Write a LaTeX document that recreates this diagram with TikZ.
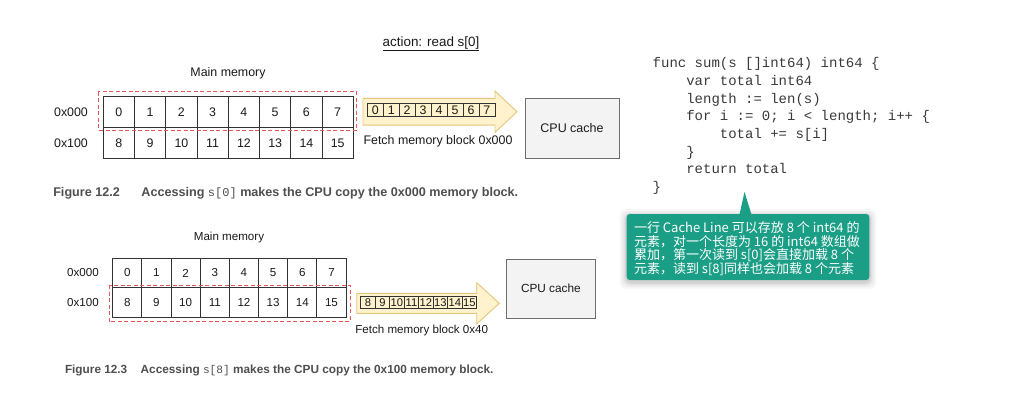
\documentclass[tikz,border=0pt]{standalone}
\usepackage{fontspec}
\setmainfont{Liberation Sans}
\setmonofont{Liberation Mono}
\newfontfamily\cjk{Noto Sans CJK SC}
\usetikzlibrary{calc}
\definecolor{gridc}{HTML}{333333}
\definecolor{reddash}{HTML}{E8585A}
\definecolor{arrowfill}{HTML}{FFF2CC}
\definecolor{arrowdraw}{HTML}{E3C77A}
\definecolor{cachefill}{HTML}{F3F3F3}
\definecolor{cachedraw}{HTML}{6E6E6E}
\definecolor{capc}{HTML}{4F4F4F}
\definecolor{codec}{HTML}{3A3A3A}
\definecolor{calloutc}{HTML}{1B9E86}
\definecolor{txtc}{HTML}{1A1A1A}
\begin{document}
\begin{tikzpicture}[x=1pt,y=-1pt,
  every node/.style={inner sep=0pt, outer sep=0pt},
  lblA/.style={font=\fontsize{12.4}{14}\selectfont, text=txtc},
  lblB/.style={font=\fontsize{11.6}{13}\selectfont, text=txtc},
  cellA/.style={draw=gridc, line width=0.9pt, minimum width=31.25pt, minimum height=30.8pt, font=\fontsize{12.4}{14}\selectfont, text=txtc},
  cellB/.style={draw=gridc, line width=0.9pt, minimum width=29.17pt, minimum height=29.5pt, font=\fontsize{11.6}{13}\selectfont, text=txtc},
  smallA/.style={draw=gridc, line width=0.8pt, minimum width=15.95pt, minimum height=13.4pt, font=\fontsize{12.4}{13}\selectfont, text=txtc},
  smallB/.style={draw=gridc, line width=0.8pt, minimum width=14.5pt, minimum height=12.3pt, font=\fontsize{11.2}{12}\selectfont, text=txtc},
  fetcharrow/.style={fill=arrowfill, draw=arrowdraw, line width=0.9pt},
  cachebox/.style={fill=cachefill, draw=cachedraw, line width=0.9pt},
  blockmark/.style={draw=reddash, line width=1pt, dash pattern=on 4pt off 2.5pt},
  caption/.style={anchor=west, text=capc},
  codeline/.style={anchor=base west, font=\fontsize{14}{17}\ttfamily, text=codec},
]
\useasboundingbox (0,0) rectangle (1026,418);
\fill[white] (0,0) rectangle (1026,418);

% ---------- top figure ----------
\node[font=\fontsize{13.4}{15}\selectfont, text=txtc] (action) at (431,44) {\underline{action: read s[0]}};
\node[lblA] (mmA) at (228,73) {Main memory};
\node[lblA] (adrA0) at (71,112.1) {0x000};
\node[lblA] (adrA1) at (71,142.9) {0x100};
\foreach \i [evaluate=\i as \j using int(\i+8)] in {0,...,7} {
  \node[cellA] (ta\i) at ({103.3+31.25*\i+15.625},112.1) {\i};
  \node[cellA] (tb\i) at ({103.3+31.25*\i+15.625},142.9) {\j};
}
\draw[blockmark] (98.3,91.7) rectangle (356.7,130);
\draw[fetcharrow] (363,98.3) -- (495,98.3) -- (495,91) -- (517,111.7) -- (495,132.4) -- (495,125.1) -- (363,125.1) -- cycle;
\foreach \i in {0,...,7} {
  \node[smallA] (tf\i) at ({367.3+15.95*\i+7.975},110) {\i};
}
\node[lblA] (fetchA) at (438,141.7) {Fetch memory block 0x000};
\node[cachebox, minimum width=94pt, minimum height=60pt, font=\fontsize{12.5}{14}\selectfont, text=txtc] (cacheA) at (572,128) {CPU cache};
\node[caption, font=\fontsize{12.6}{14}\selectfont\bfseries] (capA) at (53.3,193)
  {Figure 12.2\hspace{21.6pt}Accessing {\mdseries\ttfamily\fontsize{12}{14}\selectfont s[0]} makes the CPU copy the 0x000 memory block.};

% ---------- bottom figure ----------
\node[lblB] (mmB) at (229,237) {Main memory};
\node[lblB] (adrB0) at (83,273) {0x000};
\node[lblB] (adrB1) at (83,302.5) {0x100};
\foreach \i [evaluate=\i as \j using int(\i+8)] in {0,...,7} {
  \node[cellB] (ba\i) at ({112.7+29.17*\i+14.585},273) {\i};
  \node[cellB] (bb\i) at ({112.7+29.17*\i+14.585},302.5) {\j};
}
\draw[blockmark] (109,285) rectangle (350,321.7);
\draw[fetcharrow] (356.7,293.3) -- (476.7,293.3) -- (476.7,282.7) -- (499.3,303.3) -- (476.7,323.9) -- (476.7,313.3) -- (356.7,313.3) -- cycle;
\foreach \i [evaluate=\i as \j using int(\i+8)] in {0,...,7} {
  \node[smallB] (bf\i) at ({360.7+14.5*\i+7.25},302.2) {\j};
}
\node[lblB] (fetchB) at (421.7,330.7) {Fetch memory block 0x40};
\node[cachebox, minimum width=88.3pt, minimum height=59.3pt, font=\fontsize{11.8}{13}\selectfont, text=txtc] (cacheB) at (550.9,288.7) {CPU cache};
\node[caption, font=\fontsize{11.8}{13}\selectfont\bfseries] (capB) at (65,370)
  {Figure 12.3\hspace{13.4pt}Accessing {\mdseries\ttfamily\fontsize{11.2}{13}\selectfont s[8]} makes the CPU copy the 0x100 memory block.};

% ---------- code ----------
\node[codeline] (c1) at (652.7,67.8) {func sum(s []int64) int64 \{};
\node[codeline] (c2) at (686.3,85.4) {var total int64};
\node[codeline] (c3) at (686.3,103.1) {length := len(s)};
\node[codeline] (c4) at (686.3,120.7) {for i := 0; i < length; i++ \{};
\node[codeline] (c5) at (719.9,138.3) {total += s[i]};
\node[codeline] (c6) at (686.3,156) {\}};
\node[codeline] (c7) at (686.3,173.6) {return total};
\node[codeline] (c8) at (652.7,191.2) {\}};

% ---------- callout ----------
\foreach \e/\o in {7/0.03,5/0.04,3/0.05,1.5/0.06} {
  \fill[black, opacity=\o, rounded corners=6pt] ({626.7-\e},{214-\e+2}) rectangle ({869.3+\e},{280+\e+2});
}
\fill[calloutc, rounded corners=3pt] (626.7,214) rectangle (869.3,280);
\fill[calloutc] (739.5,214.5) -- (744.5,192) -- (751.5,214.5) -- cycle;
\node[anchor=north west, align=left, text=white, font=\cjk\fontsize{13}{13.6}\selectfont] (note) at (634,221.5)
  {一行 Cache Line 可以存放 8 个 int64 的\\元素，对一个长度为 16 的 int64 数组做\\累加，第一次读到 s[0]会直接加载 8 个\\元素，读到 s[8]同样也会加载 8 个元素};
\end{tikzpicture}
\end{document}
